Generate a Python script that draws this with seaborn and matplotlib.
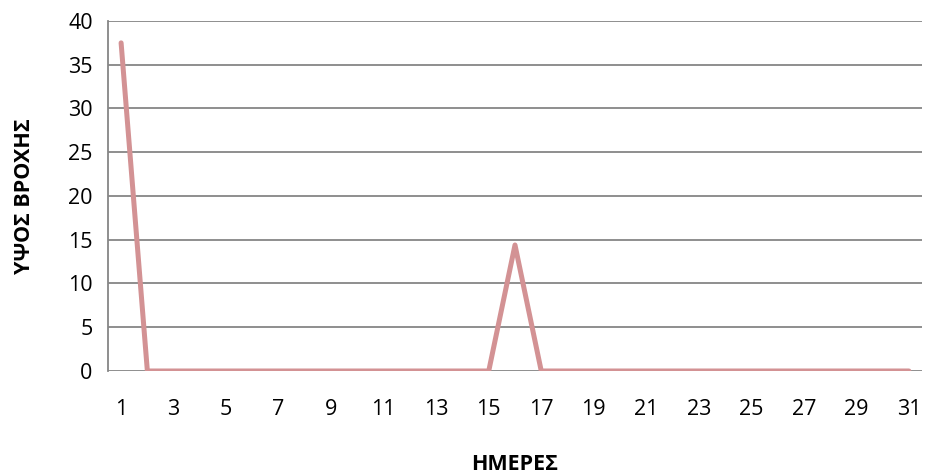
import matplotlib
matplotlib.use('Agg')
import matplotlib.pyplot as plt
import seaborn as sns
import pandas as pd

# Daily rainfall values for the month.
days = list(range(1, 32))
rain = [37.5, 0, 0, 0, 0, 0, 0, 0, 0, 0, 0, 0, 0, 0, 0,
        14.4, 0, 0, 0, 0, 0, 0, 0, 0, 0, 0, 0, 0, 0, 0, 0]
y_ticks = [0, 5, 10, 15, 20, 25, 30, 35, 40]

df = pd.DataFrame({'day': days, 'rain': rain})

sns.set_style('white')
plt.rcParams['font.family'] = ['Open Sans', 'DejaVu Sans']

fig = plt.figure(figsize=(9.26, 4.76), dpi=100)
ax = fig.add_axes([0.1166, 0.2206, 0.8791, 0.7353])

sns.lineplot(x='day', y='rain', data=df, ax=ax, color='#D39294',
             linewidth=3.6, solid_capstyle='round', solid_joinstyle='round')

ax.set_xlim(0.5, 31.5)
ax.set_ylim(0, 40)
ax.set_yticks(y_ticks)
ax.set_xticks(days[::2])
ax.yaxis.grid(True, color='#868686', linewidth=1.3)
ax.set_axisbelow(True)
for s in ['top', 'right', 'bottom']:
    ax.spines[s].set_visible(False)
ax.spines['left'].set_color('#868686')
ax.spines['left'].set_linewidth(1.3)
ax.tick_params(axis='y', length=7, width=1.3, color='#868686',
               labelcolor='black', labelsize=15.5, pad=4)
ax.tick_params(axis='x', length=0, labelcolor='black', labelsize=15.5, pad=20)

ax.set_xlabel('ΗΜΕΡΕΣ', fontsize=15.5, fontweight='bold', color='black', labelpad=25)
ax.set_ylabel('ΥΨΟΣ ΒΡΟΧΗΣ', fontsize=15.5, fontweight='bold', color='black', labelpad=24)

plt.savefig('out.png', dpi=100)
